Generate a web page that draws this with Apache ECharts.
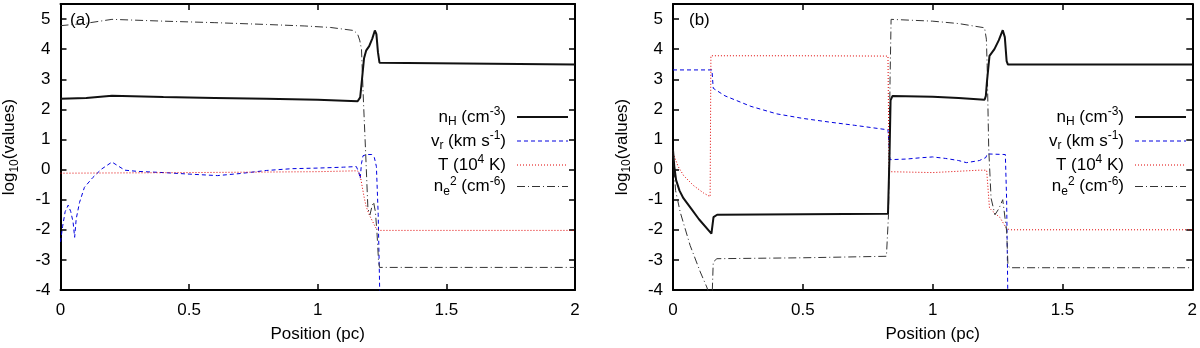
<!DOCTYPE html>
<html>
<head>
<meta charset="utf-8">
<script src="https://cdn.jsdelivr.net/npm/echarts@6/dist/echarts.min.js"></script>
<style>
  html, body { margin: 0; padding: 0; background: #fff; }
  #chart { width: 1200px; height: 348px; }
</style>
</head>
<body>
<div id="chart"></div>
<script>
// panel (a): [position (pc), log10 value]
var aNH = [[0,2.35],[0.1,2.38],[0.2,2.45],[0.4,2.41],[0.6,2.38],[0.8,2.35],[1.0,2.32],[1.155,2.27],[1.165,2.4],[1.172,3.0],[1.18,3.7],[1.188,3.95],[1.2,4.1],[1.212,4.35],[1.222,4.62],[1.228,4.5],[1.234,3.9],[1.24,3.55],[1.246,3.49],[2,3.49]];
var aVR = [[0,-2.4],[0.008,-1.9],[0.018,-1.4],[0.03,-1.18],[0.04,-1.4],[0.049,-1.75],[0.055,-2.25],[0.061,-1.64],[0.074,-1.09],[0.093,-0.59],[0.126,-0.26],[0.16,0.02],[0.2,0.25],[0.25,-0.02],[0.3,-0.06],[0.4,-0.1],[0.5,-0.15],[0.61,-0.2],[0.7,-0.13],[0.8,-0.03],[0.9,0.03],[1.0,0.05],[1.1,0.08],[1.15,0.1],[1.16,-0.1],[1.165,-0.3],[1.17,0.2],[1.176,0.46],[1.19,0.5],[1.21,0.5],[1.22,0.4],[1.228,0.1],[1.235,-1.5],[1.242,-4.5]];
var aT = [[0,-0.12],[0.5,-0.1],[1.0,-0.07],[1.155,-0.04],[1.165,-0.2],[1.181,-0.95],[1.188,-1.22],[1.2,-1.5],[1.226,-1.94],[1.24,-2.02],[2,-2.02]];
var aNE2 = [[0,4.78],[0.1,4.86],[0.2,4.99],[0.4,4.93],[0.6,4.88],[0.8,4.82],[0.95,4.77],[1.05,4.72],[1.14,4.62],[1.155,4.5],[1.163,4.3],[1.17,4.0],[1.178,2.2],[1.186,0.6],[1.195,-1.3],[1.203,-1.5],[1.21,-1.25],[1.217,-1.08],[1.224,-1.4],[1.23,-2.05],[1.236,-3.0],[1.24,-3.25],[2,-3.25]];

// panel (b)
var bNH = [[0,0.65],[0.005,0.1],[0.012,-0.35],[0.025,-0.7],[0.04,-0.95],[0.07,-1.3],[0.1,-1.65],[0.148,-2.13],[0.156,-1.58],[0.17,-1.5],[0.5,-1.48],[0.828,-1.47],[0.834,0.5],[0.838,2.3],[0.845,2.44],[1.0,2.42],[1.1,2.38],[1.2,2.32],[1.205,2.45],[1.209,2.9],[1.219,3.78],[1.238,4.0],[1.255,4.3],[1.27,4.63],[1.278,4.4],[1.285,3.6],[1.29,3.49],[2,3.49]];
var bVR = [[0,3.31],[0.15,3.31],[0.155,2.7],[0.2,2.45],[0.3,2.1],[0.4,1.85],[0.5,1.7],[0.6,1.58],[0.7,1.47],[0.828,1.32],[0.836,0.33],[0.9,0.35],[0.95,0.39],[1.0,0.42],[1.05,0.37],[1.1,0.3],[1.13,0.23],[1.18,0.3],[1.205,0.4],[1.21,0.52],[1.28,0.5],[1.285,-1],[1.29,-4.5]];
var bT = [[0,0.55],[0.02,0.1],[0.041,-0.2],[0.079,-0.53],[0.118,-0.78],[0.143,-0.9],[0.146,3.78],[0.5,3.78],[0.828,3.77],[0.832,-0.07],[1.0,-0.1],[1.18,-0.02],[1.208,-0.02],[1.219,-1.28],[1.232,-1.39],[1.26,-1.6],[1.283,-1.94],[1.296,-2.0],[2,-2.0]];
var bNE2 = [[0,0.5],[0.01,-0.7],[0.028,-1.42],[0.066,-2.52],[0.105,-3.4],[0.13,-3.9],[0.15,-4.4],[0.155,-3.07],[0.169,-2.96],[0.5,-2.93],[0.822,-2.88],[0.83,-1.5],[0.836,3.0],[0.84,4.99],[1.0,4.93],[1.1,4.85],[1.2,4.71],[1.207,4.33],[1.21,3.45],[1.216,0.7],[1.225,-0.95],[1.24,-1.5],[1.255,-1.3],[1.27,-1.0],[1.285,-2.04],[1.29,-3.15],[1.296,-3.26],[2,-3.26]];

var xTicks = [0, 0.5, 1, 1.5, 2];
var yTicks = [-4, -3, -2, -1, 0, 1, 2, 3, 4, 5];
var names = ['nH', 'vr', 'T', 'ne2'];
var legendText = {
  nH: '{t|n}{sub|H}{t| (cm}{sup|-3}{t|)}',
  vr: '{t|v}{sub|r}{t| (km s}{sup|-1}{t|)}',
  T: '{t|T (10}{sup|4}{t| K)}',
  ne2: '{t|n}{sub|e}{sup|2}{t| (cm}{sup|-6}{t|)}'
};

var FONT = 'Liberation Sans, Arial, sans-serif';
var FS = 17;

var styles = {
  nH: { color: '#111', width: 2, type: 'solid' },
  vr: { color: '#0000e0', width: 1, type: [4, 3] },
  T: { color: '#e00000', width: 1, type: [1, 2] },
  ne2: { color: '#333', width: 1, type: [8, 3, 1, 3] }
};

var grids = [
  { left: 54, top: 4, width: 521, height: 288 },
  { left: 673, top: 4, width: 520, height: 288 }
];

function xAx(g, pos) {
  var main = pos === 'bottom';
  return {
    type: 'value', gridIndex: g, position: pos, min: xTicks[0], max: xTicks[xTicks.length - 1], interval: 0.5,
    name: main ? 'Position (pc)' : '', nameLocation: 'middle', nameGap: 36,
    nameTextStyle: { fontFamily: FONT, fontSize: FS, color: '#000' },
    axisLine: { show: true, onZero: false, lineStyle: { color: '#000', width: 2 } },
    axisTick: { show: true, inside: true, length: 6, lineStyle: { color: '#000', width: 1.5 } },
    axisLabel: { show: main, margin: 12, fontFamily: FONT, fontSize: FS, color: '#000' },
    splitLine: { show: false }
  };
}
function yAx(g, pos) {
  var main = pos === 'left';
  return {
    type: 'value', gridIndex: g, position: pos, min: yTicks[0], max: 5.5, interval: 1,
    name: main ? '{a|log}{s|10}{a|(values)}' : '', nameLocation: 'middle', nameGap: 40, nameRotate: 90,
    nameTextStyle: { rich: {
      a: { fontFamily: FONT, fontSize: FS, color: '#000', lineHeight: 22, verticalAlign: 'middle' },
      s: { fontFamily: FONT, fontSize: 12, color: '#000', lineHeight: 12, verticalAlign: 'bottom' }
    } },
    axisLine: { show: true, onZero: false, lineStyle: { color: '#000', width: 2 } },
    axisTick: { show: true, inside: true, length: 6, lineStyle: { color: '#000', width: 1.5 } },
    axisLabel: { show: main, margin: 10, showMaxLabel: false, fontFamily: FONT, fontSize: FS, color: '#000' },
    splitLine: { show: false }
  };
}

var panelData = [
  { nH: aNH, vr: aVR, T: aT, ne2: aNE2 },
  { nH: bNH, vr: bVR, T: bT, ne2: bNE2 }
];

var series = [];
panelData.forEach(function (pd, g) {
  names.forEach(function (n) {
    series.push({
      name: n, type: 'line', xAxisIndex: g * 2, yAxisIndex: g * 2,
      data: pd[n], symbol: 'none', showSymbol: false, animation: false,
      z: n === 'nH' ? 3 : 2,
      lineStyle: styles[n], itemStyle: { color: styles[n].color }
    });
  });
});

function legendAt(right) {
  return {
    orient: 'vertical', right: right, top: 106, align: 'right', padding: 0,
    itemWidth: 51, itemHeight: 12, itemGap: 2, selectedMode: false,
    data: names.map(function (n) {
      return { name: n, lineStyle: { width: styles[n].width, type: styles[n].type } };
    }),
    itemStyle: { opacity: 0 },
    formatter: function (n) { return legendText[n]; },
    textStyle: {
      padding: [0, 6, 0, 0],
      rich: {
        t: { fontFamily: FONT, fontSize: FS, color: '#000', lineHeight: 22, verticalAlign: 'middle' },
        sub: { fontFamily: FONT, fontSize: 12, color: '#000', lineHeight: 12, verticalAlign: 'bottom' },
        sup: { fontFamily: FONT, fontSize: 12, color: '#000', lineHeight: 12, verticalAlign: 'top' }
      }
    }
  };
}

var chart = echarts.init(document.getElementById('chart'), null, { renderer: 'canvas' });
chart.setOption({
  animation: false,
  backgroundColor: '#fff',
  grid: grids,
  xAxis: [xAx(0, 'bottom'), xAx(0, 'top'), xAx(1, 'bottom'), xAx(1, 'top')],
  yAxis: [yAx(0, 'left'), yAx(0, 'right'), yAx(1, 'left'), yAx(1, 'right')],
  legend: [legendAt(631), legendAt(13)],
  graphic: [
    { type: 'text', x: 70, y: 12, style: { text: '(a)', font: FS + 'px ' + FONT, fill: '#000' } },
    { type: 'text', x: 689, y: 12, style: { text: '(b)', font: FS + 'px ' + FONT, fill: '#000' } }
  ],
  series: series
});
</script>
</body>
</html>
